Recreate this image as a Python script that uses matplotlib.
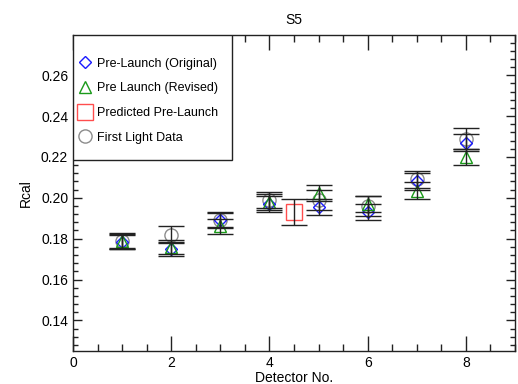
import matplotlib
matplotlib.use("Agg")
import matplotlib.pyplot as plt
from matplotlib.patches import Rectangle
from matplotlib.ticker import MultipleLocator

plt.rcParams['font.family'] = ['Liberation Sans', 'DejaVu Sans']

# Detector numbers and calibration ratios
detectors = [1, 2, 3, 4, 5, 6, 7, 8]
rcal_original = [0.1785, 0.175, 0.189, 0.197, 0.1955, 0.193, 0.208, 0.227]
err_original = [0.0035, 0.0035, 0.0035, 0.004, 0.004, 0.004, 0.004, 0.004]
rcal_revised = [0.179, 0.176, 0.186, 0.198, 0.2025, 0.197, 0.2035, 0.220]
err_revised = [0.0035, 0.0035, 0.0035, 0.004, 0.004, 0.004, 0.004, 0.004]
rcal_first_light = [0.179, 0.182, 0.189, 0.199, 0.199, 0.196, 0.209, 0.229]
err_first_light = [0.004, 0.004, 0.004, 0.004, 0.005, 0.005, 0.004, 0.005]
predicted_x = [4.5]
predicted_rcal = [0.193]
predicted_err = [0.0065]

fig = plt.figure(figsize=(5.18, 3.84), dpi=100)
ax = fig.add_axes([73 / 518, 1 - 351 / 384, 442 / 518, 316 / 384])

ms_kw = dict(linestyle='none', markerfacecolor='none', markeredgewidth=1.0)
h1, = ax.plot(detectors, rcal_original, marker='D', markersize=6,
              markeredgecolor='#1a1aff', label='Pre-Launch (Original)', zorder=3, **ms_kw)
h2, = ax.plot(detectors, rcal_revised, marker='^', markersize=8.5,
              markeredgecolor='#1a9a1a', label='Pre Launch (Revised)', zorder=3, **ms_kw)
h3, = ax.plot(predicted_x, predicted_rcal, marker='s', markersize=11,
              markeredgecolor='#ff4d4d', label='Predicted Pre-Launch', zorder=3, **ms_kw)
h4, = ax.plot(detectors, rcal_first_light, marker='o', markersize=9.5,
              markeredgecolor='#8c8c8c', label='First Light Data', zorder=2, **ms_kw)

eb_kw = dict(fmt='none', ecolor='#222222', elinewidth=1.0, capsize=9.5, capthick=1.0, zorder=4)
ax.errorbar(detectors, rcal_original, yerr=err_original, **eb_kw)
ax.errorbar(detectors, rcal_revised, yerr=err_revised, **eb_kw)
ax.errorbar(detectors, rcal_first_light, yerr=err_first_light, **eb_kw)
ax.errorbar(predicted_x, predicted_rcal, yerr=predicted_err, **eb_kw)

ax.set_xlim(0, 9)
ax.set_ylim(0.125, 0.2797)
ax.xaxis.set_major_locator(MultipleLocator(2))
ax.xaxis.set_minor_locator(MultipleLocator(0.5))
ax.yaxis.set_major_locator(MultipleLocator(0.02))
ax.yaxis.set_minor_locator(MultipleLocator(0.004))
ax.yaxis.set_major_formatter(plt.FormatStrFormatter('%.2f'))
ax.tick_params(which='both', direction='in', top=True, right=True, labelsize=10, color='#222222')
ax.tick_params(axis='x', which='major', length=10.5, width=1)
ax.tick_params(axis='x', which='minor', length=5, width=1)
ax.tick_params(axis='y', which='major', length=6.5, width=1)
ax.tick_params(axis='y', which='minor', length=3.5, width=1)
for s in ax.spines.values():
    s.set_linewidth(1.0)
    s.set_color('#222222')

ax.set_xlabel('Detector No.', fontsize=10, labelpad=1)
ax.set_ylabel('Rcal', fontsize=10, labelpad=6)
ax.set_title('S5', fontsize=10, pad=8)

# Legend box attached to the upper-left corner of the axes
box = Rectangle((0, 0.604), 0.36, 0.396, transform=ax.transAxes, fill=True,
                facecolor='white', edgecolor='#222222', linewidth=1.0, zorder=5)
ax.add_patch(box)
leg = ax.legend(handles=[h1, h2, h3, h4], loc='center left', bbox_to_anchor=(0.010, 0.792),
                frameon=False, fontsize=9, handlelength=1.2, handletextpad=0.34,
                labelspacing=1.01, borderpad=0, borderaxespad=0)
leg.set_zorder(6)

fig.savefig('out.png', dpi=100)
